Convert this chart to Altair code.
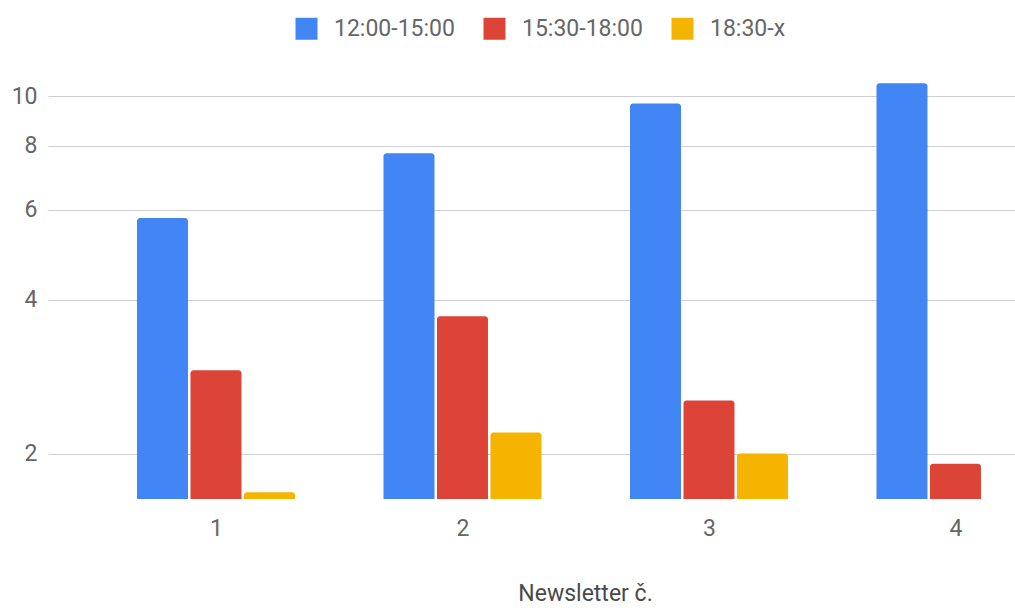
import altair as alt
import pandas as pd

# Newsletter issues and the three send-time windows
newsletters = [1, 2, 3, 4]
series = ["12:00-15:00", "15:30-18:00", "18:30-x"]
colors = ["#4285F4", "#DB4437", "#F4B400"]

values_12_15 = [5.78, 7.73, 9.68, 10.6]
values_1530_18 = [2.91, 3.71, 2.54, 1.91]
values_1830_x = [1.68, 2.20, 2.00, None]

y_ticks = [2, 4, 6, 8, 10]
Y_MIN, Y_MAX = 1.63, 11.0
X_MIN, X_MAX = 0.3185, 4.2415
BAR_SHIFT = 0.217

rows = []
for s_idx, (name, vals) in enumerate(zip(series, [values_12_15, values_1530_18, values_1830_x])):
    for n, v in zip(newsletters, vals):
        if v is not None:
            rows.append({"newsletter": n, "series": name, "s": s_idx, "value": v})
df = pd.DataFrame(rows)

font = "Roboto"
FS = 23
label_gray = "#666666"

bars = (
    alt.Chart(df)
    .transform_calculate(xpos=f"datum.newsletter + (datum.s - 1) * {BAR_SHIFT}")
    .mark_bar(size=51, cornerRadiusTopLeft=3, cornerRadiusTopRight=3, clip=True)
    .encode(
        x=alt.X(
            "xpos:Q",
            scale=alt.Scale(domain=[X_MIN, X_MAX], nice=False, zero=False, padding=0),
            axis=alt.Axis(
                values=newsletters,
                format="d",
                title="Newsletter č.",
                grid=False,
                domain=False,
                ticks=False,
                labelPadding=18,
                labelFontSize=FS,
                labelColor=label_gray,
                labelFont=font,
                titleFont=font,
                titleFontSize=FS,
                titleFontWeight="normal",
                titleColor="#4a4a4a",
                titleX=537,
                titleY=94,
                titleBaseline="middle",
                titleAnchor="start",
                titleAlign="center",
            ),
        ),
        y=alt.Y(
            "value:Q",
            scale=alt.Scale(type="log", domain=[Y_MIN, Y_MAX], nice=False, zero=False),
            axis=alt.Axis(
                values=y_ticks,
                format="d",
                title=None,
                domain=False,
                ticks=False,
                labelPadding=11,
                labelFontSize=FS,
                labelColor=label_gray,
                labelFont=font,
                gridColor="#cfcfcf",
                gridWidth=1,
            ),
        ),
        y2=alt.Y2Datum(datum=Y_MIN),
        color=alt.Color(
            "series:N",
            scale=alt.Scale(domain=series, range=colors),
            legend=alt.Legend(
                title=None,
                orient="none",
                legendX=247,
                legendY=-58,
                direction="horizontal",
                symbolType="square",
                symbolSize=484,
                symbolStrokeWidth=0,
                symbolOpacity=1,
                labelFontSize=FS,
                labelFont=font,
                labelColor=label_gray,
                labelOffset=16,
                columnPadding=28,
            ),
        ),
    )
)

chart = (
    bars.properties(
        width=967,
        height=424,
        background="white",
        autosize=alt.AutoSizeParams(type="none"),
        padding={"left": 48, "top": 75, "right": 0, "bottom": 109},
    )
    .configure_view(strokeWidth=0, stroke=None)
)

chart.save("out.html", embed_options={"renderer": "svg", "actions": False})
